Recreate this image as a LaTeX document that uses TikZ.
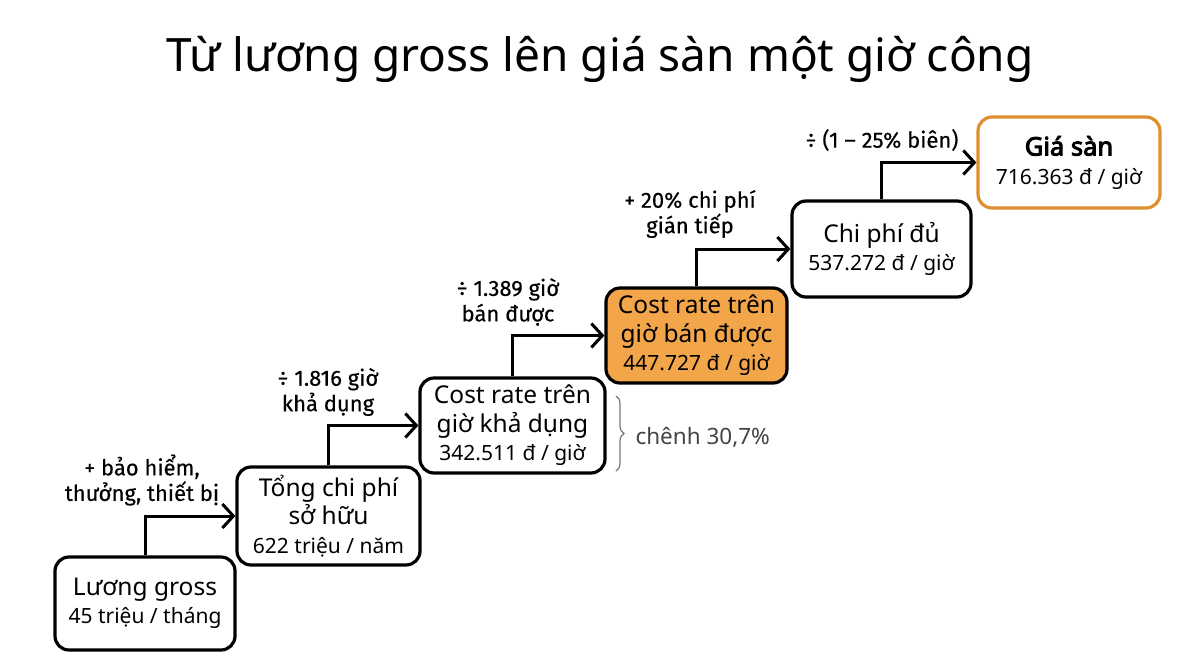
\documentclass[tikz,border=0pt]{standalone}
\usepackage{fontspec}
\setmainfont{Noto Sans}[AutoFakeBold=3.6]
\newfontfamily\labfont{Fira Sans}[FakeBold=0.3]
\usetikzlibrary{arrows.meta,decorations.pathreplacing}
\definecolor{orfill}{HTML}{F2A549}
\definecolor{orline}{HTML}{E08F2E}
\definecolor{braceg}{HTML}{777777}
\definecolor{noteg}{HTML}{444444}
\tikzset{
  box/.style={draw=black, line width=3.2pt, rounded corners=14pt, fill=white,
    align=center, inner sep=0pt, font=\fontsize{24.5}{28.5}\selectfont},
  hot/.style={box, fill=orfill},
  goal/.style={box, draw=orline},
  arr/.style={line width=3pt, -{Straight Barb[length=11pt,width=24pt,line width=3pt]}},
  lab/.style={align=center, font=\labfont\fontsize{22}{25.5}\selectfont}
}
\newcommand{\numline}[1]{{\fontsize{21}{28.5}\selectfont #1}}
\begin{document}
\begin{tikzpicture}[x=1pt,y=-1pt]
\useasboundingbox[fill=white] (0,0) rectangle (1200,670);
\node[font=\fontsize{46}{52}\selectfont] (title) at (600,59) {Từ lương gross lên giá sàn một giờ công};

\node[box, minimum width=180pt, minimum height=93pt] (b1) at (145,603.5)
  {Lương gross\\\numline{45 triệu / tháng}};
\node[box, minimum width=183pt, minimum height=98pt] (b2) at (328.5,516)
  {Tổng chi phí\\sở hữu\\\numline{622 triệu / năm}};
\node[box, minimum width=185pt, minimum height=95pt] (b3) at (512.5,425.5)
  {Cost rate trên\\giờ khả dụng\\\numline{342.511 đ / giờ}};
\node[hot, minimum width=181pt, minimum height=95pt] (b4) at (696.5,335.5)
  {Cost rate trên\\giờ bán được\\\numline{447.727 đ / giờ}};
\node[box, minimum width=179pt, minimum height=96pt] (b5) at (881.5,249)
  {Chi phí đủ\\\numline{537.272 đ / giờ}};
\node[goal, minimum width=182pt, minimum height=91pt] (b6) at (1069,162.5)
  {{\fontsize{25.5}{28.5}\selectfont\textbf{Giá sàn}}\\\numline{716.363 đ / giờ}};

\draw[arr] (b1.north) |- (b2.west);
\draw[arr] (b2.north) |- (b3.west);
\draw[arr] (b3.north) |- (b4.west);
\draw[arr] (b4.north) |- (b5.west);
\draw[arr] (b5.north) |- (b6.west);

\node[lab] (l1) at (142,480) {+ bảo hiểm,\\thưởng, thiết bị};
\node[lab] (l2) at (328,392) {÷ 1.816 giờ\\khả dụng};
\node[lab] (l3) at (508,302) {÷ 1.389 giờ\\bán được};
\node[lab] (l4) at (690,214) {+ 20\% chi phí\\gián tiếp};
\node[lab] (l5) at (882,140) {÷ (1 – 25\% biên)};

\coordinate (bt) at (616,396);
\coordinate (bb) at (616,471);
\draw[braceg, line width=1.2pt, decorate, decoration={brace, amplitude=8pt}] (bt) -- (bb);
\node[anchor=west, text=noteg, font=\fontsize{22.5}{26}\selectfont] (note) at (632,437) {chênh 30,7\%};
\end{tikzpicture}
\end{document}
